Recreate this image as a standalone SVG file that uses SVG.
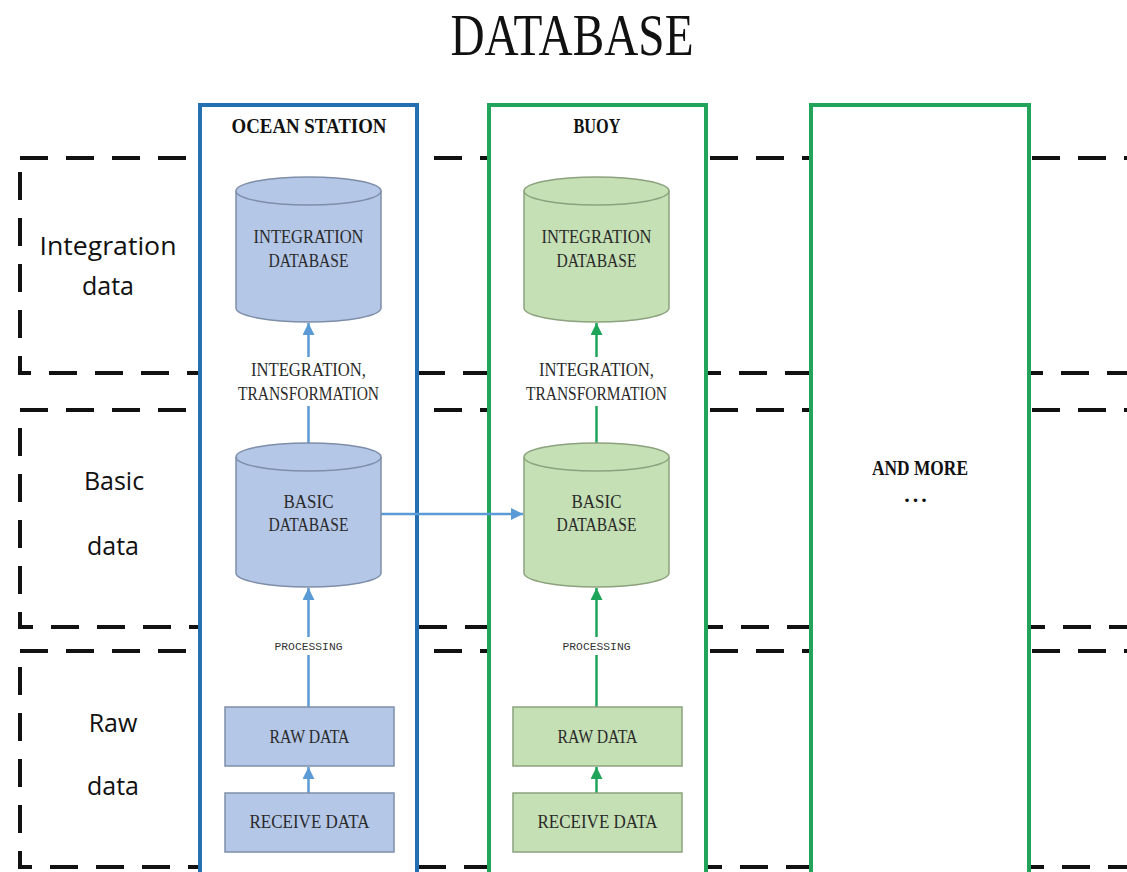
<svg xmlns="http://www.w3.org/2000/svg" width="1127" height="872" viewBox="0 0 1127 872">
<defs>
<style>
.zone{fill:none;stroke:#111;stroke-width:4;stroke-dasharray:28 18}
.colb{fill:#fff;stroke:#2470b0;stroke-width:4}
.colg{fill:#fff;stroke:#22a55b;stroke-width:4}
.bfill{fill:#b4c7e7;stroke:#7f8ea8;stroke-width:1.5}
.gfill{fill:#c5e0b4;stroke:#8ca27e;stroke-width:1.5}
.t{font-family:"Liberation Serif",serif;font-size:18px;fill:#2a2a2a;text-anchor:middle}
.hd{font-family:"Liberation Serif",serif;font-weight:bold;font-size:22px;fill:#111;text-anchor:middle}
.lab{font-family:"Open Sans","Liberation Sans",sans-serif;font-size:25px;fill:#111;text-anchor:middle}
.small{font-family:"Liberation Mono",monospace;font-size:10px;fill:#333;text-anchor:middle}
.cb{stroke:#5b9bd5;stroke-width:2.5;fill:none}
.cg{stroke:#1ea55a;stroke-width:2.5;fill:none}
</style>
<marker id="ab" markerUnits="userSpaceOnUse" viewBox="0 0 12 12" refX="12" refY="6" markerWidth="12" markerHeight="12" orient="auto"><path d="M0,0 L12,6 L0,12 z" fill="#5b9bd5"/></marker>
<marker id="ag" markerUnits="userSpaceOnUse" viewBox="0 0 12 12" refX="12" refY="6" markerWidth="12" markerHeight="12" orient="auto"><path d="M0,0 L12,6 L0,12 z" fill="#1ea55a"/></marker>
</defs>
<rect width="1127" height="872" fill="#fff"/>
<text x="572" y="55" font-family="Liberation Serif, serif" font-size="60" text-anchor="middle" textLength="243" lengthAdjust="spacingAndGlyphs" fill="#111">DATABASE</text>

<g id="zones">
<rect class="zone" x="20" y="158" width="1140" height="215"/>
<rect class="zone" x="20" y="410" width="1140" height="217"/>
<rect class="zone" x="20" y="651" width="1140" height="216"/>
<text class="lab" x="108" y="255" textLength="137" lengthAdjust="spacingAndGlyphs">Integration</text>
<text class="lab" x="108" y="295">data</text>
<text class="lab" x="114" y="490">Basic</text>
<text class="lab" x="113" y="555">data</text>
<text class="lab" x="113" y="732">Raw</text>
<text class="lab" x="113" y="795">data</text>
</g>

<g id="col-ocean">
<rect class="colb" x="200" y="105" width="217" height="775"/>
<text class="hd" x="309" y="133" textLength="155" lengthAdjust="spacingAndGlyphs">OCEAN STATION</text>
</g>
<g id="col-buoy">
<rect class="colg" x="489" y="105" width="217" height="775"/>
<text class="hd" x="597" y="133" textLength="47" lengthAdjust="spacingAndGlyphs">BUOY</text>
</g>
<g id="col-more">
<rect class="colg" x="811" y="105" width="218" height="775"/>
<text class="hd" x="920" y="475" textLength="96" lengthAdjust="spacingAndGlyphs">AND MORE</text>
<text class="hd" x="917" y="502" font-size="18" letter-spacing="3">...</text>
</g>

<g id="connectors">
<line class="cb" x1="308.5" y1="357" x2="308.5" y2="323" marker-end="url(#ab)"/>
<line class="cb" x1="308.5" y1="443" x2="308.5" y2="406"/>
<line class="cb" x1="308.5" y1="637" x2="308.5" y2="588" marker-end="url(#ab)"/>
<line class="cb" x1="308.5" y1="707" x2="308.5" y2="655"/>
<line class="cb" x1="308.5" y1="793" x2="308.5" y2="767" marker-end="url(#ab)"/>
<line class="cb" x1="381" y1="514" x2="523" y2="514" marker-end="url(#ab)"/>
<line class="cg" x1="596.5" y1="357" x2="596.5" y2="323" marker-end="url(#ag)"/>
<line class="cg" x1="596.5" y1="443" x2="596.5" y2="406"/>
<line class="cg" x1="596.5" y1="637" x2="596.5" y2="588" marker-end="url(#ag)"/>
<line class="cg" x1="596.5" y1="707" x2="596.5" y2="655"/>
<line class="cg" x1="596.5" y1="793" x2="596.5" y2="767" marker-end="url(#ag)"/>
<text class="t" x="308.5" y="376" textLength="115" lengthAdjust="spacingAndGlyphs">INTEGRATION,</text>
<text class="t" x="308.5" y="400" textLength="141" lengthAdjust="spacingAndGlyphs">TRANSFORMATION</text>
<text class="small" x="308.5" y="650" textLength="68" lengthAdjust="spacingAndGlyphs">PROCESSING</text>
<text class="t" x="596.5" y="376" textLength="115" lengthAdjust="spacingAndGlyphs">INTEGRATION,</text>
<text class="t" x="596.5" y="400" textLength="141" lengthAdjust="spacingAndGlyphs">TRANSFORMATION</text>
<text class="small" x="596.5" y="650" textLength="68" lengthAdjust="spacingAndGlyphs">PROCESSING</text>
</g>

<g id="ocean-integration-db">
<path class="bfill" d="M236,191 V308 A72.5,14 0 0 0 381,308 V191"/>
<ellipse class="bfill" cx="308.5" cy="191" rx="72.5" ry="14"/>
<text class="t" x="308.5" y="243" textLength="110" lengthAdjust="spacingAndGlyphs">INTEGRATION</text>
<text class="t" x="308.5" y="267" textLength="80" lengthAdjust="spacingAndGlyphs">DATABASE</text>
</g>
<g id="ocean-basic-db">
<path class="bfill" d="M236,457 V573 A72.5,14 0 0 0 381,573 V457"/>
<ellipse class="bfill" cx="308.5" cy="457" rx="72.5" ry="14"/>
<text class="t" x="308.5" y="508" textLength="50" lengthAdjust="spacingAndGlyphs">BASIC</text>
<text class="t" x="308.5" y="531" textLength="80" lengthAdjust="spacingAndGlyphs">DATABASE</text>
</g>
<g id="ocean-raw">
<rect class="bfill" x="225" y="707" width="169" height="59"/>
<text class="t" x="309.5" y="743" textLength="80" lengthAdjust="spacingAndGlyphs">RAW DATA</text>
</g>
<g id="ocean-receive">
<rect class="bfill" x="225" y="793" width="169" height="59"/>
<text class="t" x="309.5" y="828" textLength="120" lengthAdjust="spacingAndGlyphs">RECEIVE DATA</text>
</g>

<g id="buoy-integration-db">
<path class="gfill" d="M524,191 V308 A72.5,14 0 0 0 669,308 V191"/>
<ellipse class="gfill" cx="596.5" cy="191" rx="72.5" ry="14"/>
<text class="t" x="596.5" y="243" textLength="110" lengthAdjust="spacingAndGlyphs">INTEGRATION</text>
<text class="t" x="596.5" y="267" textLength="80" lengthAdjust="spacingAndGlyphs">DATABASE</text>
</g>
<g id="buoy-basic-db">
<path class="gfill" d="M524,457 V573 A72.5,14 0 0 0 669,573 V457"/>
<ellipse class="gfill" cx="596.5" cy="457" rx="72.5" ry="14"/>
<text class="t" x="596.5" y="508" textLength="50" lengthAdjust="spacingAndGlyphs">BASIC</text>
<text class="t" x="596.5" y="531" textLength="80" lengthAdjust="spacingAndGlyphs">DATABASE</text>
</g>
<g id="buoy-raw">
<rect class="gfill" x="513" y="707" width="169" height="59"/>
<text class="t" x="597.5" y="743" textLength="80" lengthAdjust="spacingAndGlyphs">RAW DATA</text>
</g>
<g id="buoy-receive">
<rect class="gfill" x="513" y="793" width="169" height="59"/>
<text class="t" x="597.5" y="828" textLength="120" lengthAdjust="spacingAndGlyphs">RECEIVE DATA</text>
</g>
</svg>
